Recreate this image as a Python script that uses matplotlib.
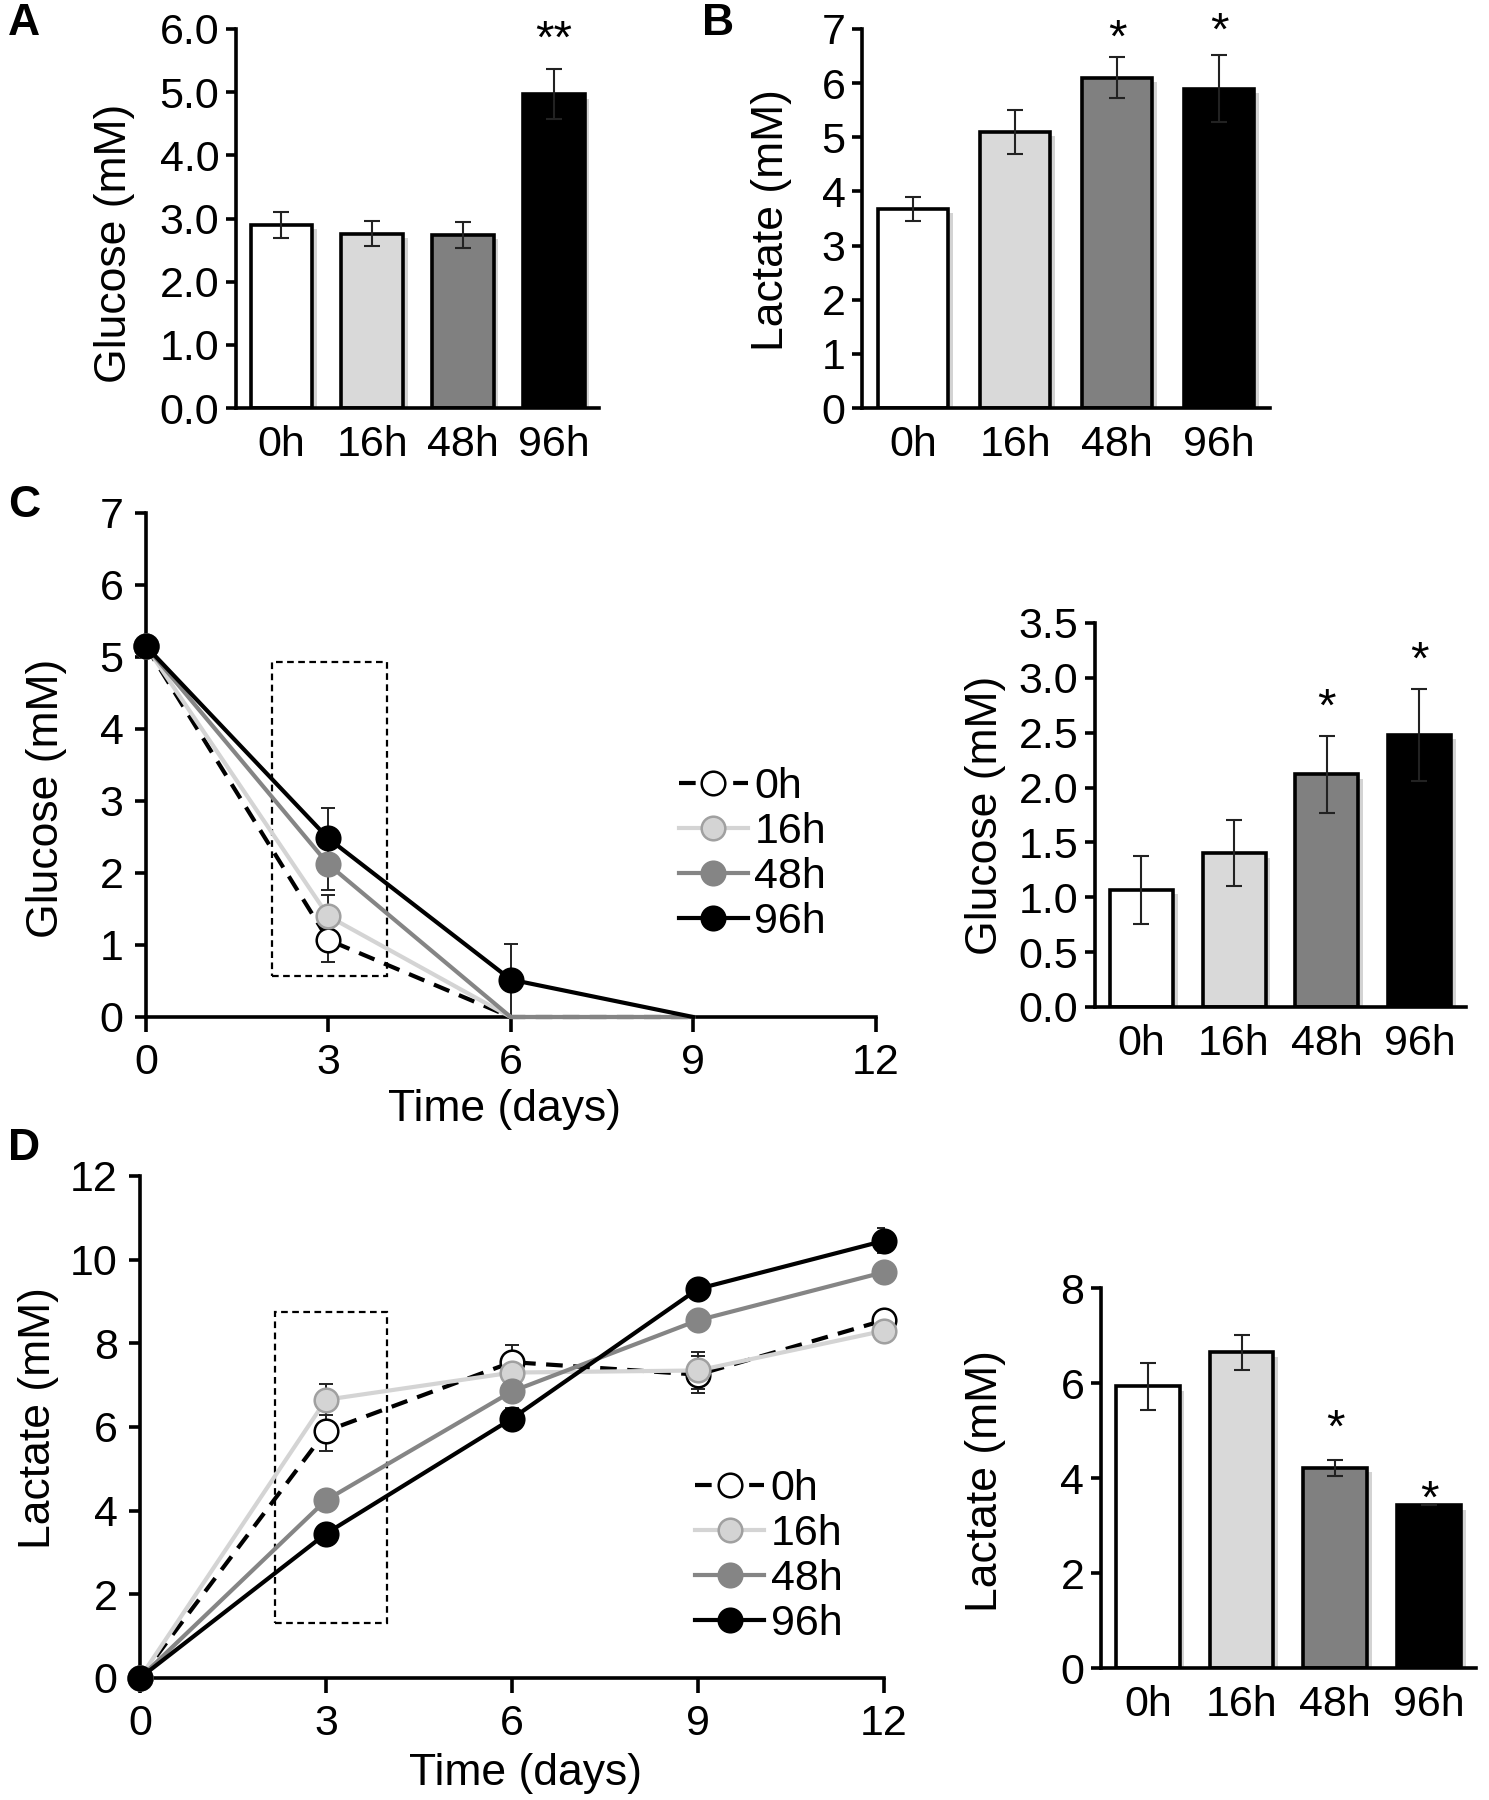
import numpy as np
import matplotlib.pyplot as plt
from matplotlib.patches import Rectangle
from matplotlib.lines import Line2D

plt.rcParams['font.family'] = ['Liberation Sans', 'DejaVu Sans']

# Data
groups = ['0h', '16h', '48h', '96h']
bar_colors = ['#ffffff', '#d9d9d9', '#808080', '#000000']

# A: glucose (bars)
glc_a = [2.90, 2.76, 2.74, 4.97]
glc_a_err = [0.21, 0.20, 0.21, 0.39]
# B: lactate (bars)
lac_b = [3.68, 5.10, 6.10, 5.90]
lac_b_err = [0.22, 0.40, 0.38, 0.62]

# C: glucose time course
days_c = [0, 3, 6, 9]
glc_0h = [5.15, 1.07, 0, 0]
glc_16h = [5.15, 1.40, 0, 0]
glc_48h = [5.15, 2.12, 0, 0]
glc_96h = [5.15, 2.48, 0.52, 0]
glc_0h_err = [0, 0.31, 0, 0]
glc_16h_err = [0, 0.30, 0, 0]
glc_48h_err = [0, 0.35, 0, 0]
glc_96h_err = [0, 0.42, 0.50, 0]
# C inset bars (day 3)
glc_c = [1.07, 1.40, 2.12, 2.48]
glc_c_err = [0.31, 0.30, 0.35, 0.42]

# D: lactate time course
days_d = [0, 3, 6, 9, 12]
lac_0h = [0, 5.90, 7.55, 7.25, 8.55]
lac_16h = [0, 6.65, 7.30, 7.35, 8.30]
lac_48h = [0, 4.25, 6.85, 8.55, 9.70]
lac_96h = [0, 3.45, 6.20, 9.30, 10.45]
lac_0h_err = [0, 0.47, 0.40, 0.45, 0.15]
lac_16h_err = [0, 0.37, 0.20, 0.45, 0.15]
lac_48h_err = [0, 0.15, 0.20, 0.15, 0.15]
lac_96h_err = [0, 0.10, 0.25, 0.20, 0.30]
# D inset bars (day 3)
lac_d = [5.93, 6.65, 4.22, 3.43]
lac_d_err = [0.50, 0.37, 0.17, 0.0]

# significance marks
stars_a = ['', '', '', '**']
stars_b = ['', '', '*', '*']
stars_c = ['', '', '*', '*']
stars_d = ['', '', '*', '*']

# dashed boxes (x0, y0, x1, y1)
box_c = (2.08, 0.57, 3.96, 4.93)
box_d = (2.18, 1.31, 3.99, 8.75)

FS = 31
LW = 2.6

fig = plt.figure(figsize=(14.89, 18), dpi=100)


def style_axes(ax):
    for s in ['top', 'right']:
        ax.spines[s].set_visible(False)
    for s in ['left', 'bottom']:
        ax.spines[s].set_linewidth(LW)
    ax.tick_params(axis='both', labelsize=FS, width=LW, direction='out')


def bar_panel(rect, vals, errs, stars, ymax, step, fmt, star_gap):
    ax = fig.add_axes(rect)
    x = np.arange(len(vals))
    # soft shadow
    ax.bar(x + 0.05, np.array(vals) - 0.012 * ymax, width=0.68, color='#b0b0b0',
           alpha=0.55, zorder=1, linewidth=0)
    ax.bar(x, vals, width=0.68, color=bar_colors, edgecolor='black',
           linewidth=2.6, zorder=2)
    ax.errorbar(x, vals, yerr=errs, fmt='none', ecolor='#222222',
                elinewidth=1.5, capsize=6, capthick=1.5, zorder=3)
    for xi, v, e, s, g in zip(x, vals, errs, stars, star_gap):
        if s:
            ax.text(xi, v + e + g, s, ha='center', va='center', fontsize=34)
    ax.set_xlim(-0.5, 3.5)
    ax.set_ylim(0, ymax)
    ticks = np.arange(0, ymax + step / 2, step)
    ax.set_yticks(ticks)
    ax.set_yticklabels([fmt.format(t) for t in ticks])
    ax.set_xticks(x)
    ax.set_xticklabels(groups)
    style_axes(ax)
    ax.tick_params(axis='x', length=0, pad=12)
    ax.tick_params(axis='y', length=7, pad=5)
    return ax


# A
bar_panel([0.1585, 0.7733, 0.2438, 0.2106], glc_a, glc_a_err, stars_a,
          6, 1, '{:.1f}', [0, 0, 0, 0.45])
# B
bar_panel([0.579, 0.7733, 0.274, 0.2106], lac_b, lac_b_err, stars_b,
          7, 1, '{:.0f}', [0, 0, 0.32, 0.42])
# C bars
bar_panel([0.7354, 0.4406, 0.249, 0.2133], glc_c, glc_c_err, stars_c,
          3.5, 0.5, '{:.1f}', [0, 0, 0.25, 0.25])
# D bars
bar_panel([0.7394, 0.0733, 0.2518, 0.2111], lac_d, lac_d_err, stars_d,
          8, 2, '{:.0f}', [0, 0, 0.62, 0.1])

series_style = [
    dict(color='black', ls=(0, (4, 2.5)), mfc='white', mec='black'),
    dict(color='#d4d4d4', ls='-', mfc='#d4d4d4', mec='#a0a0a0'),
    dict(color='#858585', ls='-', mfc='#858585', mec='#858585'),
    dict(color='black', ls='-', mfc='black', mec='black'),
]


def line_panel(rect, days, series, errs, ymax, xmax, box, leg_anchor):
    ax = fig.add_axes(rect)
    for vals, err in zip(series, errs):
        ax.errorbar(days, vals, yerr=err, fmt='none', ecolor='#222222',
                    elinewidth=1.4, capsize=5, capthick=1.4, zorder=2)
    for i, (vals, st) in enumerate(zip(series, series_style)):
        marks = [k for k, v in enumerate(vals) if k == 0 or v > 0]
        ax.plot(days, vals, color=st['color'], ls=st['ls'], lw=3.0,
                marker='o', markersize=17, markevery=marks,
                mfc=st['mfc'], mec=st['mec'], mew=1.8,
                zorder=3 + i, clip_on=False)
    x0, y0, x1, y1 = box
    ax.add_patch(Rectangle((x0, y0), x1 - x0, y1 - y0, fill=False,
                           ls=(0, (3, 2)), lw=1.6, ec='black', zorder=1))
    handles = [Line2D([], [], color=st['color'], ls=st['ls'], lw=3.0,
                      marker='o', markersize=17, mfc=st['mfc'],
                      mec=st['mec'], mew=1.8) for st in series_style]
    fig.legend(handles, groups, loc='upper left', bbox_to_anchor=leg_anchor,
               frameon=False, fontsize=FS, handlelength=1.6,
               handletextpad=0.15, labelspacing=0.12, borderpad=0,
               borderaxespad=0)
    ax.set_xlim(0, xmax)
    ax.set_ylim(0, ymax)
    ax.set_xticks(np.arange(0, xmax + 1, 3))
    style_axes(ax)
    ax.tick_params(axis='x', length=11, pad=8)
    ax.tick_params(axis='y', length=8, pad=8)
    return ax


ax_c = line_panel([0.098, 0.435, 0.490, 0.28], days_c,
                  [glc_0h, glc_16h, glc_48h, glc_96h],
                  [glc_0h_err, glc_16h_err, glc_48h_err, glc_96h_err],
                  7, 12, box_c, (0.456, 0.574))
ax_c.set_yticks(range(0, 8))

ax_d = line_panel([0.094, 0.0678, 0.4997, 0.2789], days_d,
                  [lac_0h, lac_16h, lac_48h, lac_96h],
                  [lac_0h_err, lac_16h_err, lac_48h_err, lac_96h_err],
                  12, 12, box_d, (0.467, 0.184))
ax_d.set_yticks(range(0, 13, 2))

# axis titles
YL = 32
fig.text(0.077, 1 - 243 / 1800, 'Glucose (mM)', rotation=90, ha='center', va='center', fontsize=YL)
fig.text(0.518, 1 - 220 / 1800, 'Lactate (mM)', rotation=90, ha='center', va='center', fontsize=YL)
fig.text(0.031, 1 - 798 / 1800, 'Glucose (mM)', rotation=90, ha='center', va='center', fontsize=YL)
fig.text(0.662, 1 - 815 / 1800, 'Glucose (mM)', rotation=90, ha='center', va='center', fontsize=YL)
fig.text(0.026, 1 - 1418 / 1800, 'Lactate (mM)', rotation=90, ha='center', va='center', fontsize=YL)
fig.text(0.662, 1 - 1481 / 1800, 'Lactate (mM)', rotation=90, ha='center', va='center', fontsize=YL)
fig.text(0.339, 1 - 1110 / 1800, 'Time (days)', ha='center', va='center', fontsize=YL)
fig.text(0.353, 1 - 1774 / 1800, 'Time (days)', ha='center', va='center', fontsize=YL)

# panel letters
for lab, x, y in [('A', 0.016, 0.987), ('B', 0.482, 0.987),
                  ('C', 0.016, 0.719), ('D', 0.016, 0.362)]:
    fig.text(x, y, lab, fontsize=32, fontweight='bold', ha='center', va='center')

fig.savefig('out.png', dpi=100)
